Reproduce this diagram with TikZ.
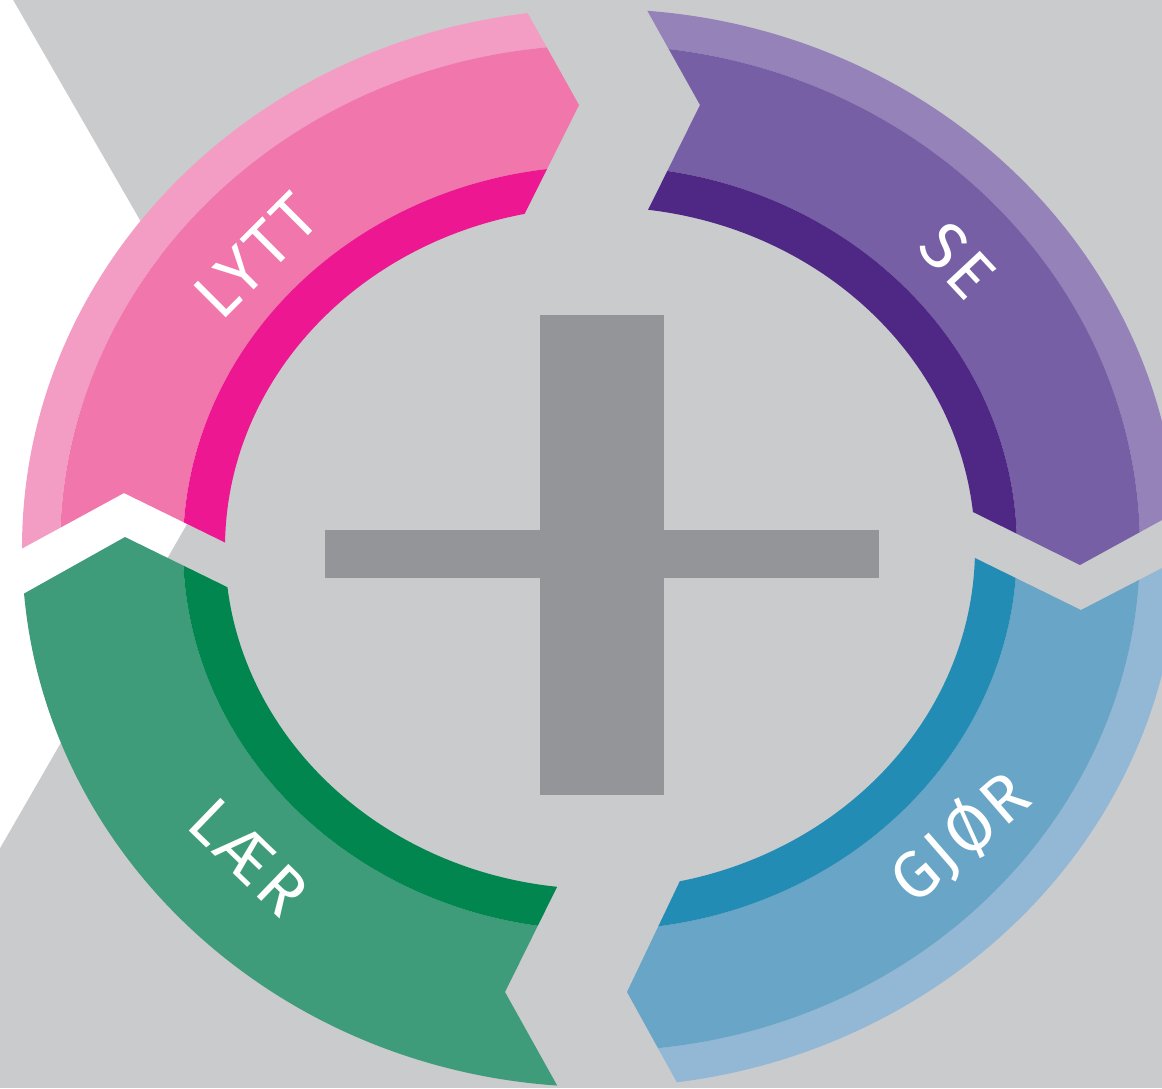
\documentclass[tikz,border=0pt]{standalone}
\usepackage{fontspec}
\newfontfamily\lblfont{Fira Sans}[LetterSpace=6]
\definecolor{bg}{HTML}{CACBCD}
\definecolor{pinkL}{HTML}{F39DC4}
\definecolor{pinkM}{HTML}{F076AC}
\definecolor{pinkD}{HTML}{EC1791}
\definecolor{purL}{HTML}{9582B8}
\definecolor{purM}{HTML}{765FA4}
\definecolor{purD}{HTML}{4F2886}
\definecolor{bluL}{HTML}{93B8D6}
\definecolor{bluM}{HTML}{68A5C6}
\definecolor{bluD}{HTML}{238CB4}
\definecolor{grnM}{HTML}{3F9C7A}
\definecolor{grnD}{HTML}{00864E}
\definecolor{plusc}{HTML}{939598}
\tikzset{
  lbl/.style={text=white, font=\lblfont\fontsize{66}{66}\selectfont, inner sep=0pt, anchor=center},
}
\newcommand{\ringbands}[3]{%
  \fill[even odd rule,#1] (600,548) ellipse [x radius=578, y radius=539] (600,548) ellipse [x radius=540, y radius=503];
  \fill[even odd rule,#2] (600,548) ellipse [x radius=540, y radius=503] (600,548) ellipse [x radius=417, y radius=382];
  \fill[even odd rule,#3] (600,548) ellipse [x radius=417, y radius=382] (600,548) ellipse [x radius=375, y radius=341];
}
\newcommand{\twobands}[2]{%
  \fill[even odd rule,#1] (600,548) ellipse [x radius=578, y radius=539] (600,548) ellipse [x radius=417, y radius=382];
  \fill[even odd rule,#2] (600,548) ellipse [x radius=417, y radius=382] (600,548) ellipse [x radius=375, y radius=341];
}
\begin{document}
\begin{tikzpicture}[x=1pt,y=-1pt]
\useasboundingbox (0,0) rectangle (1162,1088);
\fill[bg] (0,0) rectangle (1162,1088);
\fill[white] (0,0) -- (13,0) -- (251,413) -- (0,848) -- cycle;
% pink segment LYTT
\begin{scope}
\clip (-78,603) -- (124,493) -- (324,591) -- (471,321) -- (579,105) -- (475,-81) -- (-100,-100) -- (-100,603) -- cycle;
\ringbands{pinkL}{pinkM}{pinkD}
\end{scope}
% purple segment SE
\begin{scope}
\clip (596,-81) -- (700,105) -- (594,319) -- (866,459) -- (1080,565) -- (1244,475) -- (1250,-100) -- (596,-100) -- cycle;
\ringbands{purL}{purM}{purD}
\end{scope}
% blue segment GJOR
\begin{scope}
\clip (1243,526) -- (1081,610) -- (869,506) -- (729,778) -- (627,992) -- (733,1184) -- (1250,1200) -- cycle;
\ringbands{bluL}{bluM}{bluD}
\end{scope}
% green segment LAER
\begin{scope}
\clip (611,1182) -- (505,992) -- (609,782) -- (329,637) -- (125,537) -- (-75,649) -- (-100,1200) -- cycle;
\twobands{grnM}{grnD}
\end{scope}
% plus
\fill[plusc] (540,315) rectangle (664,795);
\fill[plusc] (325,530) rectangle (879,578);
% labels
\node[lbl, rotate=45] (lytt) at (256,256) {LYTT};
\node[lbl, rotate=-47] (se) at (958,260) {SE};
\node[lbl, rotate=41] (gjor) at (960,837) {GJØR};
\node[lbl, rotate=-44] (laer) at (249,857) {LÆR};
\end{tikzpicture}
\end{document}
